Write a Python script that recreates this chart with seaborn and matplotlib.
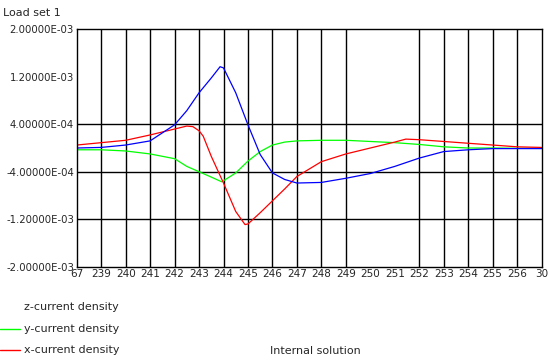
import matplotlib
matplotlib.use('Agg')
import matplotlib.pyplot as plt
import seaborn as sns

# tick labels along the x axis (one per grid column)
x_labels = ['67', '239', '240', '241', '242', '243', '244', '245', '246', '247',
            '248', '249', '250', '251', '252', '253', '254', '255', '256', '30']

y_ticks = [2.0e-3, 1.2e-3, 4.0e-4, -4.0e-4, -1.2e-3, -2.0e-3]
y_labels = ['2.00000E-03', '1.20000E-03', '4.00000E-04',
            '-4.00000E-04', '-1.20000E-03', '-2.00000E-03']

# values in units of 1e-4
blue_x = [0, 1, 2, 3, 4, 4.5, 5, 5.5, 5.86, 6, 6.5, 7, 7.5, 8, 8.5, 9,
          10, 11, 12, 13, 14, 15, 16, 17, 18, 19]
blue_y = [0.0, 0.1, 0.5, 1.2, 3.9, 6.3, 9.3, 11.8, 13.7, 13.5, 9.3, 3.9, -1.1,
          -4.2, -5.3, -5.9, -5.8, -5.1, -4.3, -3.1, -1.7, -0.6, -0.3, -0.1, -0.1, -0.1]

red_x = [0, 1, 2, 3, 4, 4.5, 4.75, 5, 5.17, 5.5, 6, 6.5, 6.88, 7, 7.5, 8, 8.5, 9,
         10, 11, 12, 13, 13.45, 14, 15, 16, 17, 18, 19]
red_y = [0.5, 0.9, 1.3, 2.2, 3.2, 3.7, 3.6, 2.9, 2.0, -1.4, -5.9, -10.7, -12.9, -12.8,
         -10.9, -8.9, -6.9, -4.8, -2.3, -1.0, 0.0, 1.0, 1.5, 1.4, 1.1, 0.8, 0.5, 0.2, 0.1]

green_x = [0, 1, 2, 3, 4, 4.5, 5, 5.5, 5.93, 6.5, 7, 7.5, 8, 8.5, 9,
           10, 11, 12, 13, 14, 15, 16, 17, 18, 19]
green_y = [-0.3, -0.3, -0.5, -1.0, -1.8, -3.1, -4.0, -4.9, -5.7, -4.2, -2.2, -0.6,
           0.5, 1.0, 1.2, 1.3, 1.3, 1.1, 0.9, 0.6, 0.2, 0.0, 0.0, -0.05, -0.05]

grid_y = [4.0e-4, -4.0e-4, -1.2e-3]
skip_cols = [12, 13]


def main():
    sns.set_style('white')
    plt.rcParams['font.family'] = ['DejaVu Sans']

    fig = plt.figure(figsize=(5.49, 3.61), dpi=100)
    ax = fig.add_axes([0.1397, 0.2612, 0.8468, 0.6576])

    # grid: drawn by hand since the original skips a few lines
    for v in grid_y:
        ax.axhline(v, color='black', lw=1.0, zorder=1)
    for i in range(1, len(x_labels) - 1):
        if i not in skip_cols:
            ax.axvline(i, color='black', lw=1.0, zorder=1)

    sns.lineplot(x=green_x, y=[v * 1e-4 for v in green_y], color='#00ff00', lw=0.9, ax=ax, sort=False)
    sns.lineplot(x=red_x, y=[v * 1e-4 for v in red_y], color='#ff0000', lw=0.9, ax=ax, sort=False)
    sns.lineplot(x=blue_x, y=[v * 1e-4 for v in blue_y], color='#0000ff', lw=0.9, ax=ax, sort=False)

    ax.set_xlim(0, len(x_labels) - 1)
    ax.set_ylim(-2.0e-3, 2.0e-3)
    ax.set_xticks(range(len(x_labels)))
    ax.set_xticklabels(x_labels, fontsize=7.5)
    ax.set_yticks(y_ticks)
    ax.set_yticklabels(y_labels, fontsize=7.3)
    ax.tick_params(length=0, pad=2)
    for s in ax.spines.values():
        s.set_color('black')
        s.set_linewidth(1.0)

    fig.text(0.006, 0.965, 'Load set 1', fontsize=8, va='center', ha='left')

    # bottom legend, drawn as text
    legend = [('z-current density', None, 0.149),
              ('y-current density', '#00ff00', 0.089),
              ('x-current density', '#ff0000', 0.030)]
    for label, col, yy in legend:
        fig.text(0.043, yy, label, fontsize=8, va='center', ha='left')
        if col is not None:
            fig.add_artist(plt.Line2D([0.0, 0.036], [yy, yy], color=col, lw=1.0,
                                      transform=fig.transFigure))
    fig.text(0.492, 0.028, 'Internal solution', fontsize=8, va='center', ha='left')

    fig.savefig('out.png', dpi=100)


main()
